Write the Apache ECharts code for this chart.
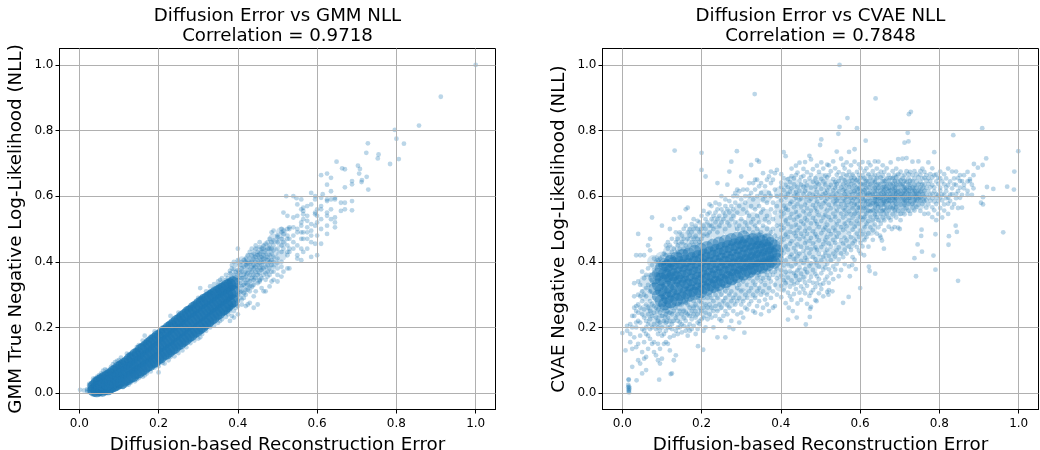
<!DOCTYPE html>
<html><head><meta charset="utf-8">
<script src="https://cdn.jsdelivr.net/npm/echarts@6/dist/echarts.min.js"></script>
<style>html,body{margin:0;padding:0;background:#fff}#c{width:1040px;height:450px}</style>
</head><body><div id="c"></div>
<script>
const tickValues=[0,0.2,0.4,0.6,0.8,1.0];
const leftTitle='Diffusion Error vs GMM NLL\nCorrelation = 0.9718';
const rightTitle='Diffusion Error vs CVAE NLL\nCorrelation = 0.7848';
const xName='Diffusion-based Reconstruction Error';
const leftYName='GMM True Negative Log-Likelihood (NLL)';
const rightYName='CVAE Negative Log-Likelihood (NLL)';

// Saturated part of each cloud: rows are [x, y, y, ...]
const gmmCore=[
[.037,.009,.02],[.044,.007,.017,.03],[.051,.011,.021,.036],[.058,.009,.024,.041],[.065,.014,.03,.047],[.072,.013,.027,.051],[.079,.019,.037,.056],[.086,.023,.041,.064],
[.093,.027,.048,.069],[.1,.034,.052,.077],[.107,.032,.059,.082],[.114,.04,.065,.088],[.121,.044,.07,.094],[.128,.05,.077,.103],[.135,.053,.08,.108],[.142,.062,.088,.117],
[.149,.064,.095,.12],[.156,.071,.099,.131],[.163,.076,.107,.136],[.17,.083,.113,.143],[.177,.087,.12,.151],[.184,.094,.124,.158],[.191,.098,.133,.164],[.198,.106,.139,.172],
[.205,.11,.145,.176],[.212,.118,.151,.185],[.219,.122,.158,.19],[.226,.128,.162,.198],[.233,.135,.171,.204],[.24,.139,.176,.211],[.247,.148,.183,.219],[.254,.152,.19,.224],
[.261,.16,.195,.232],[.268,.165,.203,.238],[.275,.173,.209,.246],[.282,.178,.215,.25],[.289,.186,.224,.259],[.296,.191,.229,.264],[.303,.198,.236,.272],[.31,.204,.241,.276],
[.317,.212,.25,.284],[.324,.217,.254,.289],[.331,.225,.261,.294],[.338,.231,.266,.3],[.345,.24,.273,.306],[.352,.244,.279,.31],[.359,.253,.286,.316],[.366,.258,.29,.32],[.373,.266,.297,.327],[.38,.273,.303,.33],[.388,.281,.31,.336]];
const gmmShade=[[.39,.3,.33,.36],[.41,.31,.34,.37,.4],[.43,.33,.36,.39,.41],[.45,.35,.38,.41,.43],[.47,.38,.41,.44],[.49,.4,.43,.47],[.51,.42,.46,.49]];
const cvaeCore=[
[.082,.318,.351],[.091,.296,.33,.362],[.098,.281,.314,.347,.381],[.107,.272,.305,.342,.366,.392],[.114,.29,.323,.358,.388],[.122,.278,.311,.349,.374,.402],
[.129,.298,.335,.361,.395],[.137,.285,.319,.352,.384,.412],[.145,.301,.34,.367,.398],[.152,.29,.326,.356,.389,.42],[.16,.306,.337,.372,.403],[.168,.298,.329,.36,.392,.424],
[.175,.312,.345,.379,.41],[.183,.304,.333,.366,.399,.432],[.191,.318,.35,.384,.416],[.198,.309,.341,.371,.405,.438],[.206,.322,.355,.39,.421],[.214,.316,.347,.378,.41,.444],
[.221,.33,.362,.396,.428],[.229,.325,.354,.385,.417,.451],[.237,.338,.369,.401,.435],[.244,.331,.36,.392,.423,.457],[.252,.344,.377,.408,.441],[.26,.339,.368,.399,.43,.463],
[.267,.352,.384,.414,.447],[.275,.348,.376,.405,.437,.468],[.283,.36,.391,.42,.452],[.29,.355,.382,.412,.443,.472],[.298,.368,.398,.427,.458],[.306,.363,.39,.418,.449,.476],
[.313,.375,.404,.433,.463],[.321,.37,.396,.424,.454],[.329,.381,.41,.439,.468],[.336,.378,.403,.43,.458],[.344,.388,.416,.445,.47],[.352,.384,.41,.436,.462],[.36,.394,.422,.45],[.367,.39,.415,.442,.467],[.375,.401,.428,.456],[.383,.398,.422,.448],[.391,.408,.434]];
// Lighter wash under the medium-density parts of the right cloud
const cvaeShade=[
[.06,.25,.3,.34],[.08,.22,.26,.4],[.1,.22,.25,.41],[.12,.23,.26,.43],[.15,.24,.27,.44,.47],[.18,.25,.28,.46,.49],[.21,.25,.29,.47,.5],[.24,.27,.31,.49,.52],[.27,.28,.32,.5,.54],[.3,.3,.33,.51,.56],[.33,.31,.35,.49,.53,.58],[.36,.32,.36,.49,.54,.6],
[.4,.33,.37,.45,.49,.53,.57,.61],[.425,.35,.4,.44,.48,.52,.56,.6,.64],[.45,.36,.41,.46,.5,.54,.58,.62],[.475,.38,.43,.47,.51,.55,.59,.63],[.5,.4,.45,.49,.53,.57,.61,.65],[.525,.42,.47,.51,.55,.59,.63],[.55,.44,.49,.53,.57,.6,.64],[.575,.46,.51,.55,.58,.61,.65],[.6,.48,.52,.55,.58,.61,.64],[.625,.5,.54,.57,.59,.62,.65],[.65,.54,.57,.59,.61,.64],[.675,.55,.58,.6,.62,.64],[.7,.56,.58,.6,.62,.65],[.725,.57,.59,.61,.63],[.75,.58,.6,.62]];

// Individually visible points: rows are [x, y, y, ...]
const gmmFringe=[
[.002,.01],[.012,.008],[.02,.008,.012,.004],[.025,.003,.012,.024,.028],[.03,.002,.01,.018,.03],[.035,.0,.008,.022,.035,.044],
[.04,.002,.03,.038,.045],[.045,.0,.006,.042,.05],[.05,.0,.004,.044,.055],[.055,.002,.05,.06],[.06,.002,.048,.068],[.065,.004,.058,.072],
[.07,.003,.06,.07],[.08,.006,.068,.08],[.085,.01,.07,.088],[.09,.012,.075,.094],[.095,.014,.08,.098],[.10,.016,.088,.1],[.105,.02,.092,.108],
[.11,.018,.095],[.12,.025,.1,.12],[.125,.026,.108,.118],[.13,.032,.112,.12],[.14,.036,.12,.13],[.145,.042,.126,.14],[.15,.046,.133,.146],
[.16,.05,.142,.16],[.165,.054,.15,.175],[.17,.06,.155,.16],[.18,.066,.162,.172],[.19,.078,.175,.188],[.20,.082,.063,.18,.186],[.21,.092,.19,.2],
[.215,.09,.196],[.225,.1,.205,.21],[.23,.11,.212,.235],[.24,.112,.22,.205],[.25,.122,.232,.245],[.26,.13,.24,.225],[.27,.14,.25,.255],
[.28,.152,.258,.255],[.29,.16,.268,.265],[.30,.166,.28,.29],[.305,.17,.29,.32],[.31,.18,.295,.286],[.32,.19,.3,.31],[.33,.2,.31,.325,.305],
[.34,.206,.32,.332],[.35,.214,.33,.34,.312],[.355,.22,.325,.345],[.36,.225,.338,.35],[.37,.232,.245,.345,.36],[.375,.24,.255,.35],
[.38,.22,.25,.26,.34,.365,.372],[.385,.235,.265,.352,.38,.39],[.39,.23,.25,.275,.345,.36,.378,.4],[.395,.26,.285,.33,.352,.37,.39],
[.40,.24,.265,.28,.3,.32,.345,.36,.375,.44,.405],[.406,.29,.308,.335,.352,.367,.391],[.41,.27,.285,.31,.325,.35,.37,.38,.4],[.415,.29,.305,.33,.345,.36,.385,.405],
[.42,.265,.3,.315,.335,.355,.37,.39,.41,.4],[.425,.27,.315,.33,.345,.365,.385,.395,.42],[.43,.275,.31,.325,.34,.36,.375,.395,.41,.43],
[.435,.325,.35,.37,.385,.4,.42,.44],[.44,.26,.295,.33,.345,.36,.38,.39,.41,.425],[.445,.31,.35,.37,.385,.4,.415,.45,.44],
[.45,.27,.335,.36,.375,.39,.405,.42,.43],[.455,.34,.345,.365,.38,.395,.41,.425,.445,.46],[.46,.32,.35,.375,.39,.4,.415,.43,.44],
[.465,.31,.36,.38,.4,.41,.42,.44,.45],[.47,.31,.345,.365,.385,.41,.425,.435,.455],[.475,.355,.37,.39,.405,.415,.44,.46],
[.48,.325,.36,.38,.4,.42,.44,.45,.47],[.485,.34,.37,.39,.405,.425,.44,.46,.49],[.49,.345,.37,.385,.4,.415,.435,.45,.465,.495],
[.50,.34,.36,.38,.395,.41,.44,.46,.475,.48],[.51,.355,.385,.4,.43,.45,.47,.49,.5],[.515,.37,.44,.46,.485,.495,.55],
[.525,.38,.42,.43,.45,.47,.48,.5,.54],[.53,.38,.43,.44,.47,.5,.505],[.54,.44,.46,.48,.505,.535,.6],[.55,.42,.41,.45,.49,.5,.54,.575],
[.56,.405,.44,.47,.49,.51,.52,.56,.59],[.565,.43,.47,.49,.53,.545,.555,.565],[.575,.44,.47,.49,.505,.525,.54,.57],
[.585,.415,.46,.48,.495,.515,.575,.61],[.595,.455,.51,.545,.55,.59,.6],[.60,.42,.48,.52,.54,.56],[.61,.455,.5,.53,.56,.57,.595,.664],
[.625,.485,.51,.54,.55,.585,.59,.635,.669],[.635,.53,.56,.59,.615,.656],[.645,.505,.52,.535,.59,.595],[.66,.555,.58],[.67,.56,.58,.627,.682],
[.663,.685],[.688,.557,.585,.636,.646]];
const gmmOutliers=[[1,1],[.912,.903],[.857,.815],[.796,.802],[.80,.775],[.819,.76],[.806,.713],[.784,.698],[.728,.761],[.724,.732],[.755,.727],[.753,.715],
[.649,.705],[.703,.693],[.708,.683],[.706,.669],[.725,.659],[.713,.649],[.712,.643],[.729,.62],[.614,.606],[.522,.6],[.548,.594]];

const cvaeFringe=[
[.0,.183],[.008,.13],[.012,.205,.19],[.02,.155,.21,.18],[.025,.2,.235,.135,.08],[.03,.17,.235,.26,.295,.335],[.035,.14,.2,.215,.25,.42,.265],
[.04,.1,.15,.22,.245,.27,.34,.3,.485],[.045,.09,.175,.215,.26,.33,.295,.42],[.05,.06,.125,.195,.24,.28,.31,.37],[.055,.105,.155,.19,.23,.255,.3,.35,.42],
[.06,.07,.11,.18,.2,.22,.27,.295,.32,.36],[.065,.135,.175,.21,.24,.26,.33,.38,.45],[.07,.165,.195,.225,.25,.28,.31,.36,.47,.435],
[.075,.15,.2,.235,.27,.345,.39,.535],[.08,.125,.155,.21,.245,.265,.29,.33,.375,.41],[.085,.115,.195,.23,.26,.36,.4],[.09,.15,.18,.2,.22,.255,.36,.385,.405,.1],
[.095,.09,.135,.19,.215,.245,.27,.39,.41],[.10,.105,.175,.2,.235,.255,.39,.415,.51],[.105,.15,.18,.22,.25,.27,.395,.425,.395],
[.11,.155,.19,.215,.24,.26,.4,.42,.45],[.115,.15,.2,.23,.25,.41,.44,.46],[.12,.13,.17,.2,.22,.245,.265,.39,.42,.45,.5],
[.125,.06,.195,.21,.24,.26,.41,.43,.47],[.13,.1,.175,.22,.25,.27,.41,.44,.53],[.135,.115,.19,.23,.26,.42,.46,.49],[.14,.18,.2,.22,.24,.27,.43,.45,.47],
[.145,.2,.215,.25,.27,.42,.44,.49,.535],[.15,.185,.21,.24,.27,.43,.46,.48],[.155,.205,.23,.25,.28,.44,.47,.5],[.16,.19,.22,.245,.275,.43,.45,.51,.56],
[.165,.175,.2,.24,.27,.44,.47,.49,.565],[.17,.19,.21,.235,.26,.285,.45,.48,.5],[.175,.195,.225,.25,.46,.49,.515],[.18,.205,.24,.26,.28,.45,.47,.5,.53],
[.185,.18,.23,.25,.27,.46,.48,.51],[.19,.195,.215,.24,.29,.47,.5,.525],[.195,.21,.22,.26,.28,.46,.49,.52],[.20,.225,.25,.275,.295,.47,.5,.54,.68],
[.205,.19,.23,.26,.29,.48,.51,.555],[.21,.2,.245,.27,.5,.53,.66],[.215,.225,.26,.29,.48,.52,.545],[.22,.24,.27,.3,.49,.51,.55,.575],
[.225,.23,.26,.29,.51,.53,.57],[.23,.2,.25,.28,.31,.5,.54],[.235,.235,.265,.3,.52,.55,.58],[.24,.17,.25,.29,.315,.49,.53,.56,.64],
[.245,.225,.27,.31,.51,.54,.575],[.25,.22,.26,.3,.52,.56,.6],[.255,.235,.28,.325,.53,.55],[.26,.17,.25,.29,.31,.5,.54,.57,.59],
[.265,.24,.27,.32,.52,.56,.635],[.27,.2,.26,.3,.33,.51,.55,.585,.675],[.275,.22,.28,.31,.53,.57,.705],[.28,.195,.25,.29,.335,.54,.56,.6],
[.285,.27,.3,.34,.52,.58,.61],[.29,.24,.28,.32,.5,.55,.6,.62],[.295,.215,.29,.33,.51,.57,.615],[.30,.245,.27,.31,.35,.53,.59,.66],
[.305,.23,.28,.34,.5,.56,.62],[.31,.26,.3,.35,.49,.52,.58,.6],[.315,.255,.29,.33,.51,.55,.62],[.32,.27,.31,.35,.5,.54,.6,.64],
[.325,.28,.32,.36,.48,.52,.57,.61,.695],[.33,.25,.3,.34,.49,.53,.59,.64],[.335,.245,.29,.33,.37,.51,.56,.62,.65],[.34,.265,.31,.35,.5,.54,.6,.65,.71],
[.345,.28,.32,.36,.48,.52,.57,.63,.705],[.35,.24,.3,.34,.37,.49,.55,.61,.64],[.355,.26,.31,.35,.51,.56,.59,.67],[.36,.285,.33,.37,.48,.53,.6,.63],
[.365,.27,.3,.36,.5,.54,.58,.65],[.37,.25,.32,.35,.38,.47,.52,.61,.66],[.375,.29,.34,.37,.49,.56,.6,.64,.675],[.38,.26,.31,.36,.39,.5,.53,.58,.65],
[.385,.265,.33,.37,.48,.55,.62,.67],[.39,.3,.35,.38,.47,.51,.57,.6,.68]];
const cvaeMiddle=[
[.401,.292,.327,.358,.374,.397,.418,.436,.461,.474,.497,.512,.538,.553,.587,.603,.628,.641,.667],[.407,.313,.344,.389,.426,.468,.503,.547,.571,.618,.655,.734],
[.412,.274,.335,.369,.404,.447,.483,.526,.562,.596,.634,.722],[.418,.224,.306,.352,.393,.437,.476,.515,.558,.607,.627,.652],[.423,.295,.324,.371,.415,.455,.491,.534,.577,.613,.643],
[.427,.284,.343,.386,.422,.463,.507,.546,.583,.624,.661,.684],[.433,.302,.331,.366,.408,.442,.487,.528,.566,.601,.636,.654],[.438,.317,.357,.394,.431,.478,.513,.552,.595,.612,.664,.693],
[.442,.273,.336,.374,.417,.453,.496,.537,.576,.604,.627,.672],[.447,.306,.345,.383,.425,.469,.504,.541,.589,.616,.647,.702],[.451,.284,.325,.364,.403,.446,.486,.523,.568,.593,.635,.658],
[.457,.316,.353,.396,.434,.477,.516,.554,.607,.628,.662,.683],[.461,.304,.337,.378,.412,.457,.494,.532,.574,.615,.646,.704],[.466,.272,.327,.368,.405,.443,.485,.526,.563,.598,.633,.673],
[.472,.296,.342,.387,.426,.464,.502,.545,.586,.608,.654,.723],[.476,.263,.306,.354,.395,.438,.473,.517,.556,.592,.626,.665,.712],[.481,.314,.336,.375,.414,.456,.493,.534,.573,.605,.644,.682],
[.487,.283,.323,.363,.407,.444,.484,.525,.564,.597,.628,.655],[.491,.335,.356,.397,.436,.476,.515,.553,.584,.613,.642,.693],[.496,.304,.347,.385,.424,.465,.506,.542,.575,.602,.636,.674],
[.502,.317,.365,.404,.445,.487,.524,.566,.596,.622,.653,.703],[.507,.295,.334,.376,.416,.454,.497,.535,.578,.606,.645,.684],[.512,.346,.383,.427,.466,.505,.544,.585,.609,.635,.663],
[.517,.308,.355,.394,.437,.475,.513,.556,.593,.617,.657,.696],[.521,.314,.336,.377,.418,.456,.495,.536,.574,.604,.627,.664,.694],[.526,.365,.405,.446,.484,.527,.563,.597,.634,.676],
[.532,.347,.386,.425,.467,.504,.547,.584,.607,.618,.652,.706],[.537,.376,.416,.458,.495,.536,.575,.596,.625,.643,.685],[.541,.394,.435,.476,.514,.555,.586,.608,.637,.665,.736],
[.546,.356,.407,.444,.487,.525,.567,.595,.615,.646,.673],[.552,.375,.426,.465,.506,.547,.576,.603,.627,.656,.714],[.557,.414,.456,.497,.535,.564,.594,.618,.636,.667,.695],
[.561,.393,.437,.474,.516,.557,.585,.606,.623,.648,.684],[.566,.425,.465,.508,.546,.573,.597,.615,.634,.664,.703],[.572,.386,.447,.486,.526,.554,.583,.604,.628,.645,.675,.735],
[.577,.436,.475,.517,.545,.577,.595,.613,.637,.656,.694],[.581,.414,.456,.498,.534,.563,.586,.607,.624,.647,.666],[.586,.406,.464,.507,.546,.574,.594,.616,.633,.655,.705,.743],
[.592,.445,.486,.525,.556,.575,.597,.612,.626,.648,.674],[.597,.434,.476,.516,.547,.565,.586,.604,.623,.644,.665,.697],[.601,.425,.457,.495,.536,.566,.584,.606,.617,.637,.656,.685],
[.606,.447,.484,.527,.555,.576,.593,.614,.636,.664,.704],[.611,.466,.505,.536,.564,.587,.603,.618,.635,.654,.676],[.616,.475,.516,.547,.566,.585,.607,.624,.646,.685],
[.621,.446,.487,.524,.556,.575,.594,.609,.627,.645,.667,.703],[.626,.505,.537,.554,.573,.586,.604,.615,.636,.657,.694],[.632,.467,.496,.526,.557,.578,.595,.607,.624,.647,.676],
[.637,.514,.545,.565,.584,.596,.613,.626,.643,.664,.706],[.642,.486,.536,.554,.575,.587,.597,.616,.634,.655,.684],[.646,.505,.527,.567,.576,.594,.606,.625,.637,.666,.705],
[.652,.474,.516,.546,.564,.585,.596,.608,.617,.636,.657,.675],[.657,.535,.556,.574,.587,.598,.614,.627,.645,.663,.694],[.661,.496,.526,.557,.575,.586,.604,.617,.628,.646,.674],
[.667,.546,.565,.584,.595,.606,.623,.637,.654,.685],[.672,.507,.534,.556,.577,.587,.597,.615,.626,.647,.665],[.677,.526,.567,.585,.596,.607,.618,.636,.656,.703],
[.682,.545,.564,.578,.594,.605,.624,.638,.655,.676],[.687,.506,.557,.586,.597,.615,.627,.646,.664],[.691,.535,.566,.576,.595,.604,.616,.635,.657,.684],
[.696,.504,.555,.587,.603,.614,.626,.645,.667,.713],[.702,.527,.546,.574,.596,.606,.617,.636,.648,.675],[.707,.556,.585,.597,.608,.625,.637,.654,.714],
[.712,.545,.574,.587,.605,.616,.627,.646,.665],[.717,.564,.586,.596,.614,.626,.644,.676,.716],[.722,.556,.577,.594,.607,.618,.636,.655,.667],
[.726,.546,.584,.595,.606,.624,.635,.647,.674],[.732,.565,.576,.596,.615,.627,.646,.664,.705],[.737,.556,.587,.604,.616,.634,.654,.676],
[.742,.567,.586,.597,.607,.625,.645,.666],[.747,.574,.595,.608,.617,.636,.657,.706],[.752,.555,.587,.596,.614,.627,.644,.665,.676],
[.757,.576,.606,.624,.637,.654,.684],[.762,.546,.585,.597,.616,.635,.656,.674],[.767,.565,.587,.604,.626,.647,.664],[.772,.547,.575,.596,.615,.637,.655,.703],
[.777,.586,.605,.627,.646,.667],[.782,.536,.566,.594,.607,.634,.657,.685],[.787,.557,.584,.615,.627,.664,.734],[.792,.527,.576,.596,.606,.645,.666],
[.797,.546,.585,.604,.637,.656],[.802,.564,.596,.617,.626,.655,.675],[.807,.535,.587,.606,.645],[.812,.556,.575,.604,.636,.667],[.817,.594,.615,.627,.654],
[.822,.546,.577,.596,.634,.684],[.827,.586,.605,.645],[.832,.565,.606,.624,.675],[.837,.576,.636,.654],[.842,.594,.606,.634,.675],[.847,.564,.615,.655],
[.852,.595,.626,.646,.664],[.857,.565,.604,.646],[.862,.624,.635,.664],[.871,.604,.645,.674,.616],[.877,.646,.652],[.882,.635,.604],[.886,.624,.664]];
const cvaeOutliers=[
[.548,1],[.334,.911],[.639,.898],[.728,.857],[.723,.85],[.568,.838],[.548,.811],[.545,.79],[.592,.807],[.908,.807],[.835,.786],[.72,.793],[.722,.767],[.712,.763],
[.614,.769],[.502,.773],[.499,.756],[.132,.739],[.2,.732],[.289,.737],[.999,.737],[.918,.715],[.909,.695],[.887,.698],[.897,.687],[.989,.675],[.988,.62],[.971,.629],
[.936,.622],[.92,.628],[.961,.49],[.847,.342],[.741,.356],[.79,.376],[.785,.419],[.737,.411],[.823,.452],[.824,.478],[.79,.484],[.844,.491],[.841,.51],[.755,.498],
[.754,.479],[.745,.453],[.756,.431],[.6,.32],[.557,.275],[.571,.293],[.574,.356],[.589,.378],[.622,.385],[.624,.372],[.638,.364],[.463,.209],[.473,.232],[.474,.257],
[.308,.184],[.204,.132],[.191,.143],[.122,.058],[.093,.041],[.036,.039],[.016,.042],[.016,.04],[.015,.025],[.017,.02],[.015,.018],[.016,.012],[.017,.008],[.016,.005],
[.017,.002],[.018,.015],[.905,.58],[.91,.575],[.91,.597],[.68,.5],[.7,.5],[.65,.48],[.66,.44],[.655,.465],[.61,.42],[.58,.39],[.53,.31],[.52,.3],[.5,.33],[.49,.28],[.44,.23],[.43,.25],[.42,.26]];

const rows=r=>r.flatMap(c=>c.slice(1).map(y=>[c[0],y]));
const blue='#1f77b4';
function axis(name,gap,margin,extra){return Object.assign({type:'value',min:-0.05,max:1.05,z:10,name,nameLocation:'middle',nameGap:gap,
 nameTextStyle:{fontSize:18.3,color:'#000',fontFamily:'DejaVu Sans'},
 axisLine:{show:true,onZero:false,lineStyle:{color:'#000',width:1}},
 axisTick:{show:true,length:4,customValues:tickValues,lineStyle:{color:'#000',width:1}},
 axisLabel:{show:true,customValues:tickValues,fontSize:12,color:'#000',margin,fontFamily:'DejaVu Sans',formatter:v=>v.toFixed(1)},
 splitLine:{show:true,lineStyle:{color:'#b0b0b0',width:1}}},extra||{});}
function layer(data,i,size,op){return {type:'scatter',xAxisIndex:i,yAxisIndex:i,data,symbolSize:size,silent:true,itemStyle:{color:blue,opacity:op,borderWidth:0}};}
const chart=echarts.init(document.getElementById('c'),null,{renderer:'canvas'});
const tStyle={fontSize:18.2,fontWeight:'normal',color:'#000',fontFamily:'DejaVu Sans',lineHeight:20.5,align:'center'};
const gridBase={top:48.5,width:436,height:361,show:true,borderColor:'#000',borderWidth:1,backgroundColor:'#fff',outerBoundsMode:'none'};
chart.setOption({animation:false,backgroundColor:'#fff',
 title:[{text:leftTitle,left:277.5,top:6,padding:0,textAlign:'center',textStyle:tStyle},{text:rightTitle,left:820.5,top:6,padding:0,textAlign:'center',textStyle:tStyle}],
 grid:[Object.assign({left:59.5},gridBase),Object.assign({left:602.5},gridBase)],
 xAxis:[axis(xName,27,8.5,{gridIndex:0}),axis(xName,27,8.5,{gridIndex:1})],
 yAxis:[axis(leftYName,34,6,{gridIndex:0}),axis(rightYName,34,6,{gridIndex:1})],
 series:[layer(rows(gmmCore),0,13,.7),layer(rows(gmmShade),0,11,.22),layer(rows(gmmFringe),0,4.8,.3),layer(gmmOutliers,0,4.8,.3),
         layer(rows(cvaeShade),1,14,.2),layer(rows(cvaeCore),1,13,.45),layer(rows(cvaeFringe),1,4.8,.3),layer(rows(cvaeMiddle),1,4.8,.3),layer(cvaeOutliers,1,4.8,.3)]
});
</script></body></html>
